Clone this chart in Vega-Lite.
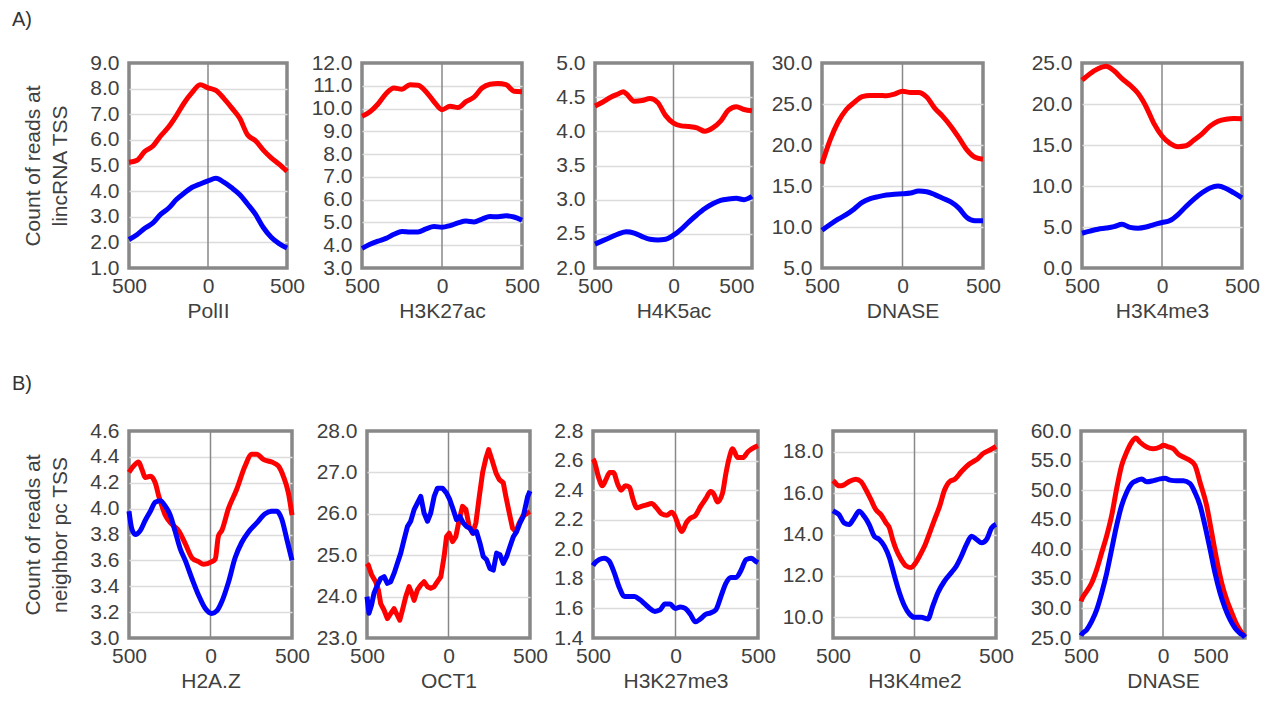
{
"$schema": "https://vega.github.io/schema/vega-lite/v6.json",
"autosize": {"type": "pad"},
"padding": {"left": 12, "top": 10, "right": 5, "bottom": 2},
"background": "white",
"datasets": {
"d": [
{"p":"PolII","s":"r","x":-500,"y":5.13},{"p":"PolII","s":"r","x":-450,"y":5.2},{"p":"PolII","s":"r","x":-400,"y":5.55},{"p":"PolII","s":"r","x":-350,"y":5.75},{"p":"PolII","s":"r","x":-300,"y":6.15},{"p":"PolII","s":"r","x":-250,"y":6.5},{"p":"PolII","s":"r","x":-200,"y":6.95},{"p":"PolII","s":"r","x":-150,"y":7.45},{"p":"PolII","s":"r","x":-100,"y":7.85},{"p":"PolII","s":"r","x":-50,"y":8.15},{"p":"PolII","s":"r","x":0,"y":8.03},{"p":"PolII","s":"r","x":50,"y":7.93},{"p":"PolII","s":"r","x":100,"y":7.62},{"p":"PolII","s":"r","x":150,"y":7.25},{"p":"PolII","s":"r","x":200,"y":6.85},{"p":"PolII","s":"r","x":250,"y":6.2},{"p":"PolII","s":"r","x":300,"y":5.97},{"p":"PolII","s":"r","x":350,"y":5.6},{"p":"PolII","s":"r","x":400,"y":5.3},{"p":"PolII","s":"r","x":450,"y":5.05},{"p":"PolII","s":"r","x":500,"y":4.77},
{"p":"PolII","s":"b","x":-500,"y":2.11},{"p":"PolII","s":"b","x":-450,"y":2.3},{"p":"PolII","s":"b","x":-400,"y":2.55},{"p":"PolII","s":"b","x":-350,"y":2.75},{"p":"PolII","s":"b","x":-300,"y":3.09},{"p":"PolII","s":"b","x":-250,"y":3.33},{"p":"PolII","s":"b","x":-200,"y":3.67},{"p":"PolII","s":"b","x":-150,"y":3.93},{"p":"PolII","s":"b","x":-100,"y":4.15},{"p":"PolII","s":"b","x":-50,"y":4.28},{"p":"PolII","s":"b","x":0,"y":4.4},{"p":"PolII","s":"b","x":50,"y":4.5},{"p":"PolII","s":"b","x":100,"y":4.35},{"p":"PolII","s":"b","x":150,"y":4.13},{"p":"PolII","s":"b","x":200,"y":3.87},{"p":"PolII","s":"b","x":250,"y":3.5},{"p":"PolII","s":"b","x":300,"y":3.1},{"p":"PolII","s":"b","x":350,"y":2.58},{"p":"PolII","s":"b","x":400,"y":2.2},{"p":"PolII","s":"b","x":450,"y":1.95},{"p":"PolII","s":"b","x":500,"y":1.78},
{"p":"H3K27ac","s":"r","x":-500,"y":9.66},{"p":"H3K27ac","s":"r","x":-450,"y":9.86},{"p":"H3K27ac","s":"r","x":-400,"y":10.2},{"p":"H3K27ac","s":"r","x":-350,"y":10.65},{"p":"H3K27ac","s":"r","x":-300,"y":10.9},{"p":"H3K27ac","s":"r","x":-250,"y":10.85},{"p":"H3K27ac","s":"r","x":-200,"y":11.05},{"p":"H3K27ac","s":"r","x":-150,"y":11.02},{"p":"H3K27ac","s":"r","x":-100,"y":10.74},{"p":"H3K27ac","s":"r","x":-50,"y":10.3},{"p":"H3K27ac","s":"r","x":0,"y":9.95},{"p":"H3K27ac","s":"r","x":50,"y":10.1},{"p":"H3K27ac","s":"r","x":100,"y":10.05},{"p":"H3K27ac","s":"r","x":150,"y":10.3},{"p":"H3K27ac","s":"r","x":200,"y":10.5},{"p":"H3K27ac","s":"r","x":250,"y":10.9},{"p":"H3K27ac","s":"r","x":300,"y":11.07},{"p":"H3K27ac","s":"r","x":350,"y":11.1},{"p":"H3K27ac","s":"r","x":400,"y":11.05},{"p":"H3K27ac","s":"r","x":450,"y":10.76},{"p":"H3K27ac","s":"r","x":500,"y":10.74},
{"p":"H3K27ac","s":"b","x":-500,"y":3.86},{"p":"H3K27ac","s":"b","x":-450,"y":4.04},{"p":"H3K27ac","s":"b","x":-400,"y":4.18},{"p":"H3K27ac","s":"b","x":-350,"y":4.3},{"p":"H3K27ac","s":"b","x":-300,"y":4.48},{"p":"H3K27ac","s":"b","x":-250,"y":4.6},{"p":"H3K27ac","s":"b","x":-200,"y":4.58},{"p":"H3K27ac","s":"b","x":-150,"y":4.58},{"p":"H3K27ac","s":"b","x":-100,"y":4.72},{"p":"H3K27ac","s":"b","x":-50,"y":4.82},{"p":"H3K27ac","s":"b","x":0,"y":4.79},{"p":"H3K27ac","s":"b","x":50,"y":4.86},{"p":"H3K27ac","s":"b","x":100,"y":4.98},{"p":"H3K27ac","s":"b","x":150,"y":5.06},{"p":"H3K27ac","s":"b","x":200,"y":5.02},{"p":"H3K27ac","s":"b","x":250,"y":5.15},{"p":"H3K27ac","s":"b","x":300,"y":5.26},{"p":"H3K27ac","s":"b","x":350,"y":5.25},{"p":"H3K27ac","s":"b","x":400,"y":5.29},{"p":"H3K27ac","s":"b","x":450,"y":5.24},{"p":"H3K27ac","s":"b","x":500,"y":5.1},
{"p":"H4K5ac","s":"r","x":-500,"y":4.37},{"p":"H4K5ac","s":"r","x":-450,"y":4.43},{"p":"H4K5ac","s":"r","x":-400,"y":4.5},{"p":"H4K5ac","s":"r","x":-350,"y":4.55},{"p":"H4K5ac","s":"r","x":-320,"y":4.58},{"p":"H4K5ac","s":"r","x":-300,"y":4.55},{"p":"H4K5ac","s":"r","x":-250,"y":4.44},{"p":"H4K5ac","s":"r","x":-200,"y":4.45},{"p":"H4K5ac","s":"r","x":-150,"y":4.48},{"p":"H4K5ac","s":"r","x":-100,"y":4.42},{"p":"H4K5ac","s":"r","x":-50,"y":4.23},{"p":"H4K5ac","s":"r","x":0,"y":4.12},{"p":"H4K5ac","s":"r","x":50,"y":4.08},{"p":"H4K5ac","s":"r","x":100,"y":4.07},{"p":"H4K5ac","s":"r","x":150,"y":4.05},{"p":"H4K5ac","s":"r","x":200,"y":4.0},{"p":"H4K5ac","s":"r","x":250,"y":4.05},{"p":"H4K5ac","s":"r","x":300,"y":4.15},{"p":"H4K5ac","s":"r","x":350,"y":4.31},{"p":"H4K5ac","s":"r","x":400,"y":4.36},{"p":"H4K5ac","s":"r","x":450,"y":4.32},{"p":"H4K5ac","s":"r","x":500,"y":4.3},
{"p":"H4K5ac","s":"b","x":-500,"y":2.35},{"p":"H4K5ac","s":"b","x":-450,"y":2.4},{"p":"H4K5ac","s":"b","x":-400,"y":2.45},{"p":"H4K5ac","s":"b","x":-350,"y":2.5},{"p":"H4K5ac","s":"b","x":-300,"y":2.53},{"p":"H4K5ac","s":"b","x":-250,"y":2.51},{"p":"H4K5ac","s":"b","x":-200,"y":2.46},{"p":"H4K5ac","s":"b","x":-150,"y":2.42},{"p":"H4K5ac","s":"b","x":-100,"y":2.41},{"p":"H4K5ac","s":"b","x":-50,"y":2.42},{"p":"H4K5ac","s":"b","x":0,"y":2.48},{"p":"H4K5ac","s":"b","x":50,"y":2.57},{"p":"H4K5ac","s":"b","x":100,"y":2.68},{"p":"H4K5ac","s":"b","x":150,"y":2.78},{"p":"H4K5ac","s":"b","x":200,"y":2.87},{"p":"H4K5ac","s":"b","x":250,"y":2.94},{"p":"H4K5ac","s":"b","x":300,"y":2.99},{"p":"H4K5ac","s":"b","x":350,"y":3.01},{"p":"H4K5ac","s":"b","x":400,"y":3.02},{"p":"H4K5ac","s":"b","x":450,"y":3.0},{"p":"H4K5ac","s":"b","x":500,"y":3.05},
{"p":"DNASE_A","s":"r","x":-500,"y":17.7},{"p":"DNASE_A","s":"r","x":-450,"y":20.6},{"p":"DNASE_A","s":"r","x":-400,"y":22.8},{"p":"DNASE_A","s":"r","x":-350,"y":24.3},{"p":"DNASE_A","s":"r","x":-300,"y":25.2},{"p":"DNASE_A","s":"r","x":-250,"y":25.9},{"p":"DNASE_A","s":"r","x":-200,"y":26.05},{"p":"DNASE_A","s":"r","x":-150,"y":26.05},{"p":"DNASE_A","s":"r","x":-100,"y":26.0},{"p":"DNASE_A","s":"r","x":-50,"y":26.2},{"p":"DNASE_A","s":"r","x":0,"y":26.55},{"p":"DNASE_A","s":"r","x":50,"y":26.4},{"p":"DNASE_A","s":"r","x":100,"y":26.4},{"p":"DNASE_A","s":"r","x":150,"y":25.85},{"p":"DNASE_A","s":"r","x":200,"y":24.5},{"p":"DNASE_A","s":"r","x":250,"y":23.5},{"p":"DNASE_A","s":"r","x":300,"y":22.3},{"p":"DNASE_A","s":"r","x":350,"y":20.9},{"p":"DNASE_A","s":"r","x":400,"y":19.4},{"p":"DNASE_A","s":"r","x":450,"y":18.5},{"p":"DNASE_A","s":"r","x":500,"y":18.25},
{"p":"DNASE_A","s":"b","x":-500,"y":9.6},{"p":"DNASE_A","s":"b","x":-450,"y":10.3},{"p":"DNASE_A","s":"b","x":-400,"y":10.95},{"p":"DNASE_A","s":"b","x":-350,"y":11.5},{"p":"DNASE_A","s":"b","x":-300,"y":12.2},{"p":"DNASE_A","s":"b","x":-250,"y":13.0},{"p":"DNASE_A","s":"b","x":-200,"y":13.45},{"p":"DNASE_A","s":"b","x":-150,"y":13.7},{"p":"DNASE_A","s":"b","x":-100,"y":13.9},{"p":"DNASE_A","s":"b","x":-50,"y":14.0},{"p":"DNASE_A","s":"b","x":0,"y":14.05},{"p":"DNASE_A","s":"b","x":50,"y":14.15},{"p":"DNASE_A","s":"b","x":100,"y":14.4},{"p":"DNASE_A","s":"b","x":150,"y":14.3},{"p":"DNASE_A","s":"b","x":200,"y":13.95},{"p":"DNASE_A","s":"b","x":250,"y":13.5},{"p":"DNASE_A","s":"b","x":300,"y":13.05},{"p":"DNASE_A","s":"b","x":350,"y":12.3},{"p":"DNASE_A","s":"b","x":400,"y":11.15},{"p":"DNASE_A","s":"b","x":450,"y":10.76},{"p":"DNASE_A","s":"b","x":500,"y":10.76},
{"p":"H3K4me3","s":"r","x":-500,"y":22.9},{"p":"H3K4me3","s":"r","x":-450,"y":23.7},{"p":"H3K4me3","s":"r","x":-400,"y":24.3},{"p":"H3K4me3","s":"r","x":-350,"y":24.6},{"p":"H3K4me3","s":"r","x":-300,"y":24.05},{"p":"H3K4me3","s":"r","x":-250,"y":23.1},{"p":"H3K4me3","s":"r","x":-200,"y":22.3},{"p":"H3K4me3","s":"r","x":-150,"y":21.3},{"p":"H3K4me3","s":"r","x":-100,"y":19.7},{"p":"H3K4me3","s":"r","x":-50,"y":17.6},{"p":"H3K4me3","s":"r","x":0,"y":16.1},{"p":"H3K4me3","s":"r","x":50,"y":15.2},{"p":"H3K4me3","s":"r","x":100,"y":14.8},{"p":"H3K4me3","s":"r","x":150,"y":14.9},{"p":"H3K4me3","s":"r","x":200,"y":15.6},{"p":"H3K4me3","s":"r","x":250,"y":16.35},{"p":"H3K4me3","s":"r","x":300,"y":17.3},{"p":"H3K4me3","s":"r","x":350,"y":17.9},{"p":"H3K4me3","s":"r","x":400,"y":18.15},{"p":"H3K4me3","s":"r","x":450,"y":18.22},{"p":"H3K4me3","s":"r","x":500,"y":18.2},
{"p":"H3K4me3","s":"b","x":-500,"y":4.24},{"p":"H3K4me3","s":"b","x":-450,"y":4.5},{"p":"H3K4me3","s":"b","x":-400,"y":4.73},{"p":"H3K4me3","s":"b","x":-350,"y":4.87},{"p":"H3K4me3","s":"b","x":-300,"y":5.05},{"p":"H3K4me3","s":"b","x":-250,"y":5.33},{"p":"H3K4me3","s":"b","x":-200,"y":4.95},{"p":"H3K4me3","s":"b","x":-150,"y":4.85},{"p":"H3K4me3","s":"b","x":-100,"y":5.0},{"p":"H3K4me3","s":"b","x":-50,"y":5.3},{"p":"H3K4me3","s":"b","x":0,"y":5.55},{"p":"H3K4me3","s":"b","x":50,"y":5.79},{"p":"H3K4me3","s":"b","x":100,"y":6.52},{"p":"H3K4me3","s":"b","x":150,"y":7.5},{"p":"H3K4me3","s":"b","x":200,"y":8.4},{"p":"H3K4me3","s":"b","x":250,"y":9.17},{"p":"H3K4me3","s":"b","x":300,"y":9.75},{"p":"H3K4me3","s":"b","x":350,"y":9.99},{"p":"H3K4me3","s":"b","x":400,"y":9.7},{"p":"H3K4me3","s":"b","x":450,"y":9.15},{"p":"H3K4me3","s":"b","x":500,"y":8.55},
{"p":"H2A.Z","s":"r","x":-500,"y":4.28},{"p":"H2A.Z","s":"r","x":-471,"y":4.33},{"p":"H2A.Z","s":"r","x":-441,"y":4.36},{"p":"H2A.Z","s":"r","x":-420,"y":4.3},{"p":"H2A.Z","s":"r","x":-400,"y":4.24},{"p":"H2A.Z","s":"r","x":-369,"y":4.25},{"p":"H2A.Z","s":"r","x":-339,"y":4.2},{"p":"H2A.Z","s":"r","x":-318,"y":4.1},{"p":"H2A.Z","s":"r","x":-298,"y":4.02},{"p":"H2A.Z","s":"r","x":-278,"y":3.95},{"p":"H2A.Z","s":"r","x":-237,"y":3.88},{"p":"H2A.Z","s":"r","x":-196,"y":3.83},{"p":"H2A.Z","s":"r","x":-155,"y":3.73},{"p":"H2A.Z","s":"r","x":-114,"y":3.62},{"p":"H2A.Z","s":"r","x":-73,"y":3.59},{"p":"H2A.Z","s":"r","x":-43,"y":3.57},{"p":"H2A.Z","s":"r","x":8,"y":3.59},{"p":"H2A.Z","s":"r","x":29,"y":3.61},{"p":"H2A.Z","s":"r","x":49,"y":3.79},{"p":"H2A.Z","s":"r","x":69,"y":3.83},{"p":"H2A.Z","s":"r","x":110,"y":4.0},{"p":"H2A.Z","s":"r","x":161,"y":4.15},{"p":"H2A.Z","s":"r","x":212,"y":4.33},{"p":"H2A.Z","s":"r","x":253,"y":4.42},{"p":"H2A.Z","s":"r","x":284,"y":4.42},{"p":"H2A.Z","s":"r","x":324,"y":4.38},{"p":"H2A.Z","s":"r","x":376,"y":4.36},{"p":"H2A.Z","s":"r","x":416,"y":4.33},{"p":"H2A.Z","s":"r","x":447,"y":4.25},{"p":"H2A.Z","s":"r","x":478,"y":4.12},{"p":"H2A.Z","s":"r","x":500,"y":3.95},
{"p":"H2A.Z","s":"b","x":-500,"y":3.98},{"p":"H2A.Z","s":"b","x":-482,"y":3.84},{"p":"H2A.Z","s":"b","x":-461,"y":3.8},{"p":"H2A.Z","s":"b","x":-431,"y":3.83},{"p":"H2A.Z","s":"b","x":-400,"y":3.91},{"p":"H2A.Z","s":"b","x":-369,"y":3.98},{"p":"H2A.Z","s":"b","x":-339,"y":4.05},{"p":"H2A.Z","s":"b","x":-308,"y":4.06},{"p":"H2A.Z","s":"b","x":-278,"y":4.02},{"p":"H2A.Z","s":"b","x":-247,"y":3.95},{"p":"H2A.Z","s":"b","x":-216,"y":3.82},{"p":"H2A.Z","s":"b","x":-186,"y":3.69},{"p":"H2A.Z","s":"b","x":-155,"y":3.6},{"p":"H2A.Z","s":"b","x":-114,"y":3.46},{"p":"H2A.Z","s":"b","x":-73,"y":3.33},{"p":"H2A.Z","s":"b","x":-33,"y":3.23},{"p":"H2A.Z","s":"b","x":8,"y":3.19},{"p":"H2A.Z","s":"b","x":39,"y":3.21},{"p":"H2A.Z","s":"b","x":69,"y":3.28},{"p":"H2A.Z","s":"b","x":110,"y":3.43},{"p":"H2A.Z","s":"b","x":151,"y":3.62},{"p":"H2A.Z","s":"b","x":192,"y":3.74},{"p":"H2A.Z","s":"b","x":233,"y":3.82},{"p":"H2A.Z","s":"b","x":284,"y":3.89},{"p":"H2A.Z","s":"b","x":335,"y":3.96},{"p":"H2A.Z","s":"b","x":376,"y":3.98},{"p":"H2A.Z","s":"b","x":406,"y":3.98},{"p":"H2A.Z","s":"b","x":437,"y":3.92},{"p":"H2A.Z","s":"b","x":467,"y":3.77},{"p":"H2A.Z","s":"b","x":500,"y":3.6},
{"p":"OCT1","s":"r","x":-500,"y":24.8},{"p":"OCT1","s":"r","x":-492,"y":24.76},{"p":"OCT1","s":"r","x":-471,"y":24.52},{"p":"OCT1","s":"r","x":-447,"y":24.36},{"p":"OCT1","s":"r","x":-430,"y":24.16},{"p":"OCT1","s":"r","x":-416,"y":23.83},{"p":"OCT1","s":"r","x":-395,"y":23.67},{"p":"OCT1","s":"r","x":-375,"y":23.47},{"p":"OCT1","s":"r","x":-355,"y":23.59},{"p":"OCT1","s":"r","x":-334,"y":23.71},{"p":"OCT1","s":"r","x":-314,"y":23.55},{"p":"OCT1","s":"r","x":-299,"y":23.43},{"p":"OCT1","s":"r","x":-283,"y":23.67},{"p":"OCT1","s":"r","x":-262,"y":24.0},{"p":"OCT1","s":"r","x":-242,"y":24.24},{"p":"OCT1","s":"r","x":-225,"y":24.08},{"p":"OCT1","s":"r","x":-211,"y":23.91},{"p":"OCT1","s":"r","x":-191,"y":24.16},{"p":"OCT1","s":"r","x":-170,"y":24.28},{"p":"OCT1","s":"r","x":-150,"y":24.36},{"p":"OCT1","s":"r","x":-129,"y":24.24},{"p":"OCT1","s":"r","x":-109,"y":24.2},{"p":"OCT1","s":"r","x":-88,"y":24.24},{"p":"OCT1","s":"r","x":-68,"y":24.36},{"p":"OCT1","s":"r","x":-47,"y":24.48},{"p":"OCT1","s":"r","x":-27,"y":24.97},{"p":"OCT1","s":"r","x":-12,"y":25.45},{"p":"OCT1","s":"r","x":4,"y":25.53},{"p":"OCT1","s":"r","x":25,"y":25.33},{"p":"OCT1","s":"r","x":45,"y":25.45},{"p":"OCT1","s":"r","x":66,"y":25.86},{"p":"OCT1","s":"r","x":86,"y":26.18},{"p":"OCT1","s":"r","x":107,"y":26.1},{"p":"OCT1","s":"r","x":127,"y":25.69},{"p":"OCT1","s":"r","x":148,"y":25.53},{"p":"OCT1","s":"r","x":168,"y":25.78},{"p":"OCT1","s":"r","x":189,"y":26.42},{"p":"OCT1","s":"r","x":209,"y":26.99},{"p":"OCT1","s":"r","x":230,"y":27.35},{"p":"OCT1","s":"r","x":246,"y":27.55},{"p":"OCT1","s":"r","x":266,"y":27.31},{"p":"OCT1","s":"r","x":291,"y":26.99},{"p":"OCT1","s":"r","x":311,"y":26.83},{"p":"OCT1","s":"r","x":336,"y":26.75},{"p":"OCT1","s":"r","x":352,"y":26.42},{"p":"OCT1","s":"r","x":373,"y":26.02},{"p":"OCT1","s":"r","x":393,"y":25.65},{"p":"OCT1","s":"r","x":414,"y":25.57},{"p":"OCT1","s":"r","x":434,"y":25.78},{"p":"OCT1","s":"r","x":455,"y":25.94},{"p":"OCT1","s":"r","x":486,"y":26.02},{"p":"OCT1","s":"r","x":500,"y":26.05},
{"p":"OCT1","s":"b","x":-500,"y":24.0},{"p":"OCT1","s":"b","x":-488,"y":23.6},{"p":"OCT1","s":"b","x":-472,"y":23.8},{"p":"OCT1","s":"b","x":-457,"y":24.08},{"p":"OCT1","s":"b","x":-436,"y":24.28},{"p":"OCT1","s":"b","x":-416,"y":24.44},{"p":"OCT1","s":"b","x":-395,"y":24.48},{"p":"OCT1","s":"b","x":-375,"y":24.32},{"p":"OCT1","s":"b","x":-355,"y":24.36},{"p":"OCT1","s":"b","x":-334,"y":24.56},{"p":"OCT1","s":"b","x":-314,"y":24.8},{"p":"OCT1","s":"b","x":-293,"y":25.05},{"p":"OCT1","s":"b","x":-273,"y":25.37},{"p":"OCT1","s":"b","x":-252,"y":25.69},{"p":"OCT1","s":"b","x":-232,"y":25.82},{"p":"OCT1","s":"b","x":-211,"y":26.1},{"p":"OCT1","s":"b","x":-191,"y":26.26},{"p":"OCT1","s":"b","x":-170,"y":26.42},{"p":"OCT1","s":"b","x":-150,"y":26.02},{"p":"OCT1","s":"b","x":-129,"y":25.82},{"p":"OCT1","s":"b","x":-109,"y":26.02},{"p":"OCT1","s":"b","x":-88,"y":26.42},{"p":"OCT1","s":"b","x":-68,"y":26.62},{"p":"OCT1","s":"b","x":-37,"y":26.62},{"p":"OCT1","s":"b","x":-12,"y":26.5},{"p":"OCT1","s":"b","x":8,"y":26.34},{"p":"OCT1","s":"b","x":29,"y":26.1},{"p":"OCT1","s":"b","x":49,"y":25.86},{"p":"OCT1","s":"b","x":70,"y":25.94},{"p":"OCT1","s":"b","x":90,"y":25.78},{"p":"OCT1","s":"b","x":111,"y":25.69},{"p":"OCT1","s":"b","x":131,"y":25.65},{"p":"OCT1","s":"b","x":152,"y":25.53},{"p":"OCT1","s":"b","x":172,"y":25.57},{"p":"OCT1","s":"b","x":193,"y":25.29},{"p":"OCT1","s":"b","x":213,"y":24.97},{"p":"OCT1","s":"b","x":234,"y":24.89},{"p":"OCT1","s":"b","x":254,"y":24.68},{"p":"OCT1","s":"b","x":275,"y":24.64},{"p":"OCT1","s":"b","x":295,"y":25.05},{"p":"OCT1","s":"b","x":316,"y":25.01},{"p":"OCT1","s":"b","x":336,"y":24.8},{"p":"OCT1","s":"b","x":357,"y":24.97},{"p":"OCT1","s":"b","x":377,"y":25.21},{"p":"OCT1","s":"b","x":398,"y":25.45},{"p":"OCT1","s":"b","x":418,"y":25.57},{"p":"OCT1","s":"b","x":439,"y":25.78},{"p":"OCT1","s":"b","x":459,"y":25.94},{"p":"OCT1","s":"b","x":486,"y":26.42},{"p":"OCT1","s":"b","x":500,"y":26.55},
{"p":"H3K27me3","s":"r","x":-500,"y":2.61},{"p":"H3K27me3","s":"r","x":-494,"y":2.6},{"p":"H3K27me3","s":"r","x":-467,"y":2.49},{"p":"H3K27me3","s":"r","x":-443,"y":2.43},{"p":"H3K27me3","s":"r","x":-422,"y":2.47},{"p":"H3K27me3","s":"r","x":-398,"y":2.52},{"p":"H3K27me3","s":"r","x":-377,"y":2.52},{"p":"H3K27me3","s":"r","x":-350,"y":2.44},{"p":"H3K27me3","s":"r","x":-330,"y":2.4},{"p":"H3K27me3","s":"r","x":-303,"y":2.43},{"p":"H3K27me3","s":"r","x":-279,"y":2.42},{"p":"H3K27me3","s":"r","x":-258,"y":2.34},{"p":"H3K27me3","s":"r","x":-234,"y":2.28},{"p":"H3K27me3","s":"r","x":-207,"y":2.29},{"p":"H3K27me3","s":"r","x":-176,"y":2.3},{"p":"H3K27me3","s":"r","x":-145,"y":2.31},{"p":"H3K27me3","s":"r","x":-115,"y":2.28},{"p":"H3K27me3","s":"r","x":-84,"y":2.24},{"p":"H3K27me3","s":"r","x":-53,"y":2.23},{"p":"H3K27me3","s":"r","x":-23,"y":2.25},{"p":"H3K27me3","s":"r","x":-2,"y":2.22},{"p":"H3K27me3","s":"r","x":18,"y":2.16},{"p":"H3K27me3","s":"r","x":39,"y":2.12},{"p":"H3K27me3","s":"r","x":66,"y":2.18},{"p":"H3K27me3","s":"r","x":90,"y":2.21},{"p":"H3K27me3","s":"r","x":121,"y":2.23},{"p":"H3K27me3","s":"r","x":152,"y":2.29},{"p":"H3K27me3","s":"r","x":182,"y":2.34},{"p":"H3K27me3","s":"r","x":213,"y":2.39},{"p":"H3K27me3","s":"r","x":234,"y":2.37},{"p":"H3K27me3","s":"r","x":254,"y":2.32},{"p":"H3K27me3","s":"r","x":285,"y":2.38},{"p":"H3K27me3","s":"r","x":305,"y":2.51},{"p":"H3K27me3","s":"r","x":326,"y":2.62},{"p":"H3K27me3","s":"r","x":346,"y":2.68},{"p":"H3K27me3","s":"r","x":377,"y":2.62},{"p":"H3K27me3","s":"r","x":408,"y":2.62},{"p":"H3K27me3","s":"r","x":439,"y":2.66},{"p":"H3K27me3","s":"r","x":480,"y":2.69},{"p":"H3K27me3","s":"r","x":500,"y":2.7},
{"p":"H3K27me3","s":"b","x":-500,"y":1.89},{"p":"H3K27me3","s":"b","x":-494,"y":1.9},{"p":"H3K27me3","s":"b","x":-463,"y":1.93},{"p":"H3K27me3","s":"b","x":-432,"y":1.94},{"p":"H3K27me3","s":"b","x":-402,"y":1.92},{"p":"H3K27me3","s":"b","x":-371,"y":1.84},{"p":"H3K27me3","s":"b","x":-340,"y":1.74},{"p":"H3K27me3","s":"b","x":-309,"y":1.68},{"p":"H3K27me3","s":"b","x":-279,"y":1.68},{"p":"H3K27me3","s":"b","x":-248,"y":1.68},{"p":"H3K27me3","s":"b","x":-217,"y":1.66},{"p":"H3K27me3","s":"b","x":-186,"y":1.63},{"p":"H3K27me3","s":"b","x":-156,"y":1.6},{"p":"H3K27me3","s":"b","x":-125,"y":1.58},{"p":"H3K27me3","s":"b","x":-94,"y":1.59},{"p":"H3K27me3","s":"b","x":-64,"y":1.63},{"p":"H3K27me3","s":"b","x":-33,"y":1.63},{"p":"H3K27me3","s":"b","x":-2,"y":1.6},{"p":"H3K27me3","s":"b","x":29,"y":1.61},{"p":"H3K27me3","s":"b","x":59,"y":1.6},{"p":"H3K27me3","s":"b","x":90,"y":1.56},{"p":"H3K27me3","s":"b","x":121,"y":1.51},{"p":"H3K27me3","s":"b","x":152,"y":1.53},{"p":"H3K27me3","s":"b","x":182,"y":1.56},{"p":"H3K27me3","s":"b","x":213,"y":1.57},{"p":"H3K27me3","s":"b","x":244,"y":1.59},{"p":"H3K27me3","s":"b","x":275,"y":1.68},{"p":"H3K27me3","s":"b","x":305,"y":1.77},{"p":"H3K27me3","s":"b","x":336,"y":1.81},{"p":"H3K27me3","s":"b","x":367,"y":1.81},{"p":"H3K27me3","s":"b","x":398,"y":1.86},{"p":"H3K27me3","s":"b","x":428,"y":1.93},{"p":"H3K27me3","s":"b","x":459,"y":1.94},{"p":"H3K27me3","s":"b","x":484,"y":1.92},{"p":"H3K27me3","s":"b","x":500,"y":1.91},
{"p":"H3K4me2","s":"r","x":-500,"y":16.6},{"p":"H3K4me2","s":"r","x":-494,"y":16.56},{"p":"H3K4me2","s":"r","x":-463,"y":16.35},{"p":"H3K4me2","s":"r","x":-432,"y":16.4},{"p":"H3K4me2","s":"r","x":-401,"y":16.56},{"p":"H3K4me2","s":"r","x":-360,"y":16.67},{"p":"H3K4me2","s":"r","x":-329,"y":16.56},{"p":"H3K4me2","s":"r","x":-298,"y":16.16},{"p":"H3K4me2","s":"r","x":-267,"y":15.68},{"p":"H3K4me2","s":"r","x":-237,"y":15.2},{"p":"H3K4me2","s":"r","x":-206,"y":14.96},{"p":"H3K4me2","s":"r","x":-175,"y":14.56},{"p":"H3K4me2","s":"r","x":-154,"y":14.32},{"p":"H3K4me2","s":"r","x":-134,"y":13.76},{"p":"H3K4me2","s":"r","x":-113,"y":13.28},{"p":"H3K4me2","s":"r","x":-82,"y":12.8},{"p":"H3K4me2","s":"r","x":-51,"y":12.48},{"p":"H3K4me2","s":"r","x":-21,"y":12.4},{"p":"H3K4me2","s":"r","x":0,"y":12.56},{"p":"H3K4me2","s":"r","x":31,"y":12.96},{"p":"H3K4me2","s":"r","x":62,"y":13.44},{"p":"H3K4me2","s":"r","x":93,"y":14.08},{"p":"H3K4me2","s":"r","x":123,"y":14.72},{"p":"H3K4me2","s":"r","x":154,"y":15.36},{"p":"H3K4me2","s":"r","x":185,"y":16.16},{"p":"H3K4me2","s":"r","x":216,"y":16.56},{"p":"H3K4me2","s":"r","x":247,"y":16.67},{"p":"H3K4me2","s":"r","x":288,"y":17.04},{"p":"H3K4me2","s":"r","x":329,"y":17.36},{"p":"H3K4me2","s":"r","x":360,"y":17.52},{"p":"H3K4me2","s":"r","x":391,"y":17.68},{"p":"H3K4me2","s":"r","x":422,"y":17.92},{"p":"H3K4me2","s":"r","x":463,"y":18.08},{"p":"H3K4me2","s":"r","x":500,"y":18.26},
{"p":"H3K4me2","s":"b","x":-500,"y":15.15},{"p":"H3K4me2","s":"b","x":-494,"y":15.12},{"p":"H3K4me2","s":"b","x":-463,"y":14.96},{"p":"H3K4me2","s":"b","x":-432,"y":14.56},{"p":"H3K4me2","s":"b","x":-401,"y":14.48},{"p":"H3K4me2","s":"b","x":-370,"y":14.8},{"p":"H3K4me2","s":"b","x":-340,"y":15.12},{"p":"H3K4me2","s":"b","x":-309,"y":14.88},{"p":"H3K4me2","s":"b","x":-278,"y":14.48},{"p":"H3K4me2","s":"b","x":-247,"y":13.92},{"p":"H3K4me2","s":"b","x":-216,"y":13.76},{"p":"H3K4me2","s":"b","x":-185,"y":13.44},{"p":"H3K4me2","s":"b","x":-154,"y":12.88},{"p":"H3K4me2","s":"b","x":-123,"y":12.0},{"p":"H3K4me2","s":"b","x":-93,"y":11.2},{"p":"H3K4me2","s":"b","x":-62,"y":10.56},{"p":"H3K4me2","s":"b","x":-31,"y":10.16},{"p":"H3K4me2","s":"b","x":0,"y":10.0},{"p":"H3K4me2","s":"b","x":41,"y":10.0},{"p":"H3K4me2","s":"b","x":82,"y":9.92},{"p":"H3K4me2","s":"b","x":113,"y":10.56},{"p":"H3K4me2","s":"b","x":144,"y":11.2},{"p":"H3K4me2","s":"b","x":185,"y":11.76},{"p":"H3K4me2","s":"b","x":226,"y":12.16},{"p":"H3K4me2","s":"b","x":257,"y":12.48},{"p":"H3K4me2","s":"b","x":288,"y":12.96},{"p":"H3K4me2","s":"b","x":319,"y":13.52},{"p":"H3K4me2","s":"b","x":350,"y":13.92},{"p":"H3K4me2","s":"b","x":381,"y":13.76},{"p":"H3K4me2","s":"b","x":412,"y":13.6},{"p":"H3K4me2","s":"b","x":442,"y":13.76},{"p":"H3K4me2","s":"b","x":473,"y":14.32},{"p":"H3K4me2","s":"b","x":500,"y":14.5},
{"p":"DNASE_B","s":"r","x":-500,"y":31.2},{"p":"DNASE_B","s":"r","x":-496,"y":31.5},{"p":"DNASE_B","s":"r","x":-465,"y":32.9},{"p":"DNASE_B","s":"r","x":-435,"y":34.3},{"p":"DNASE_B","s":"r","x":-404,"y":36.6},{"p":"DNASE_B","s":"r","x":-374,"y":39.4},{"p":"DNASE_B","s":"r","x":-343,"y":42.3},{"p":"DNASE_B","s":"r","x":-313,"y":45.7},{"p":"DNASE_B","s":"r","x":-283,"y":50.2},{"p":"DNASE_B","s":"r","x":-252,"y":54.2},{"p":"DNASE_B","s":"r","x":-222,"y":56.4},{"p":"DNASE_B","s":"r","x":-191,"y":58.1},{"p":"DNASE_B","s":"r","x":-165,"y":58.8},{"p":"DNASE_B","s":"r","x":-140,"y":58.1},{"p":"DNASE_B","s":"r","x":-100,"y":57.3},{"p":"DNASE_B","s":"r","x":-59,"y":57.0},{"p":"DNASE_B","s":"r","x":-18,"y":57.3},{"p":"DNASE_B","s":"r","x":2,"y":57.6},{"p":"DNASE_B","s":"r","x":33,"y":57.3},{"p":"DNASE_B","s":"r","x":63,"y":57.0},{"p":"DNASE_B","s":"r","x":93,"y":56.1},{"p":"DNASE_B","s":"r","x":124,"y":55.6},{"p":"DNASE_B","s":"r","x":165,"y":55.0},{"p":"DNASE_B","s":"r","x":195,"y":54.2},{"p":"DNASE_B","s":"r","x":226,"y":51.3},{"p":"DNASE_B","s":"r","x":266,"y":47.4},{"p":"DNASE_B","s":"r","x":297,"y":42.8},{"p":"DNASE_B","s":"r","x":327,"y":38.3},{"p":"DNASE_B","s":"r","x":358,"y":34.3},{"p":"DNASE_B","s":"r","x":388,"y":31.5},{"p":"DNASE_B","s":"r","x":419,"y":29.3},{"p":"DNASE_B","s":"r","x":449,"y":27.3},{"p":"DNASE_B","s":"r","x":480,"y":25.9},{"p":"DNASE_B","s":"r","x":500,"y":25.3},
{"p":"DNASE_B","s":"b","x":-500,"y":25.4},{"p":"DNASE_B","s":"b","x":-496,"y":25.6},{"p":"DNASE_B","s":"b","x":-465,"y":26.4},{"p":"DNASE_B","s":"b","x":-435,"y":27.8},{"p":"DNASE_B","s":"b","x":-404,"y":29.8},{"p":"DNASE_B","s":"b","x":-374,"y":32.6},{"p":"DNASE_B","s":"b","x":-343,"y":36.0},{"p":"DNASE_B","s":"b","x":-313,"y":40.0},{"p":"DNASE_B","s":"b","x":-283,"y":44.0},{"p":"DNASE_B","s":"b","x":-252,"y":47.4},{"p":"DNASE_B","s":"b","x":-222,"y":49.6},{"p":"DNASE_B","s":"b","x":-191,"y":51.1},{"p":"DNASE_B","s":"b","x":-161,"y":51.6},{"p":"DNASE_B","s":"b","x":-130,"y":51.9},{"p":"DNASE_B","s":"b","x":-100,"y":51.4},{"p":"DNASE_B","s":"b","x":-59,"y":51.6},{"p":"DNASE_B","s":"b","x":-18,"y":51.9},{"p":"DNASE_B","s":"b","x":12,"y":52.0},{"p":"DNASE_B","s":"b","x":43,"y":51.7},{"p":"DNASE_B","s":"b","x":83,"y":51.6},{"p":"DNASE_B","s":"b","x":124,"y":51.6},{"p":"DNASE_B","s":"b","x":165,"y":51.1},{"p":"DNASE_B","s":"b","x":195,"y":49.6},{"p":"DNASE_B","s":"b","x":226,"y":47.4},{"p":"DNASE_B","s":"b","x":256,"y":44.0},{"p":"DNASE_B","s":"b","x":287,"y":40.0},{"p":"DNASE_B","s":"b","x":317,"y":36.0},{"p":"DNASE_B","s":"b","x":348,"y":32.6},{"p":"DNASE_B","s":"b","x":378,"y":30.1},{"p":"DNASE_B","s":"b","x":409,"y":28.1},{"p":"DNASE_B","s":"b","x":439,"y":26.7},{"p":"DNASE_B","s":"b","x":470,"y":25.8},{"p":"DNASE_B","s":"b","x":494,"y":25.3},{"p":"DNASE_B","s":"b","x":500,"y":25.1}
],
"zero": [{"z": 0}]
},
"data": {"name": "d"},
"config": {
"font": "Liberation Sans",
"view": {"stroke": "#888888", "strokeWidth": 3.5},
"line": {"strokeWidth": 5, "interpolate": "monotone", "clip": true, "strokeJoin": "round"},
"rule": {"color": "#888888", "strokeWidth": 1.5},
"axis": {"labelFont": "Liberation Sans", "labelFontSize": 21, "labelColor": "#404040", "titleFont": "Liberation Sans", "titleFontSize": 21, "titleFontWeight": "normal", "titleColor": "#404040", "domain": false, "ticks": false, "tickSize": 0, "labelFlush": false, "labelOverlap": false},
"axisX": {"grid": false, "labelPadding": 7, "titlePadding": 4, "labelExpr": "datum.value == 0 ? '0' : '500'"},
"axisY": {"grid": true, "gridColor": "#dcdcdc", "gridWidth": 1.5, "format": ".1f", "labelPadding": 10, "titlePadding": 19, "titleLineHeight": 27},
"title": {"font": "Liberation Sans", "fontSize": 20, "fontWeight": "normal", "color": "#333333", "anchor": "start", "frame": "group"}
},
"spacing": 51,
"vconcat": [
{
"title": {"text": "A)", "dx": -117, "offset": 20},
"spacing": 26,
"hconcat": [
{"spacing": 2, "hconcat": [
{"width": 158, "height": 205, "layer": [
{"data": {"name": "zero"}, "mark": "rule", "encoding": {"x": {"field": "z", "type": "quantitative", "scale": {"domain": [-500, 500], "nice": false}, "axis": {"values": [-500, 0, 500], "title": "PolII"}}}},
{"transform": [{"filter": "datum.p == 'PolII'"}],
"encoding": {
"x": {"field": "x", "type": "quantitative", "scale": {"domain": [-500, 500], "nice": false}, "axis": {"values": [-500, 0, 500], "title": "PolII"}},
"y": {"field": "y", "type": "quantitative", "scale": {"domain": [1, 9], "nice": false, "zero": false}, "axis": {"values": [1,2,3,4,5,6,7,8,9], "title": ["Count of reads at", "lincRNA TSS"], "gridOpacity": {"condition": {"test": "datum.value <= 1.001 || datum.value >= 8.999", "value": 0}, "value": 1}}}},
"layer": [
{"transform": [{"filter": "datum.s == 'r'"}], "mark": {"type": "line", "color": "#ff0000"}},
{"transform": [{"filter": "datum.s == 'b'"}], "mark": {"type": "line", "color": "#0000ff"}}
]}
]},
{"spacing": 12, "hconcat": [
{"width": 160, "height": 205, "layer": [
{"data": {"name": "zero"}, "mark": "rule", "encoding": {"x": {"field": "z", "type": "quantitative", "scale": {"domain": [-500, 500], "nice": false}, "axis": {"values": [-500, 0, 500], "title": "H3K27ac"}}}},
{"transform": [{"filter": "datum.p == 'H3K27ac'"}],
"encoding": {
"x": {"field": "x", "type": "quantitative", "scale": {"domain": [-500, 500], "nice": false}, "axis": {"values": [-500, 0, 500], "title": "H3K27ac"}},
"y": {"field": "y", "type": "quantitative", "scale": {"domain": [3, 12], "nice": false, "zero": false}, "axis": {"values": [3,4,5,6,7,8,9,10,11,12], "title": null, "gridOpacity": {"condition": {"test": "datum.value <= 3.001 || datum.value >= 11.999", "value": 0}, "value": 1}}}},
"layer": [
{"transform": [{"filter": "datum.s == 'r'"}], "mark": {"type": "line", "color": "#ff0000"}},
{"transform": [{"filter": "datum.s == 'b'"}], "mark": {"type": "line", "color": "#0000ff"}}
]}
]},
{"width": 157, "height": 205, "layer": [
{"data": {"name": "zero"}, "mark": "rule", "encoding": {"x": {"field": "z", "type": "quantitative", "scale": {"domain": [-500, 500], "nice": false}, "axis": {"values": [-500, 0, 400], "title": "H4K5ac"}}}},
{"transform": [{"filter": "datum.p == 'H4K5ac'"}],
"encoding": {
"x": {"field": "x", "type": "quantitative", "scale": {"domain": [-500, 500], "nice": false}, "axis": {"values": [-500, 0, 400], "title": "H4K5ac"}},
"y": {"field": "y", "type": "quantitative", "scale": {"domain": [2, 5], "nice": false, "zero": false}, "axis": {"values": [2,2.5,3,3.5,4,4.5,5], "title": null, "gridOpacity": {"condition": {"test": "datum.value <= 2.001 || datum.value >= 4.999", "value": 0}, "value": 1}}}},
"layer": [
{"transform": [{"filter": "datum.s == 'r'"}], "mark": {"type": "line", "color": "#ff0000"}},
{"transform": [{"filter": "datum.s == 'b'"}], "mark": {"type": "line", "color": "#0000ff"}}
]}
]},
{"width": 161, "height": 205, "layer": [
{"data": {"name": "zero"}, "mark": "rule", "encoding": {"x": {"field": "z", "type": "quantitative", "scale": {"domain": [-500, 500], "nice": false}, "axis": {"values": [-500, 0, 500], "title": "DNASE"}}}},
{"transform": [{"filter": "datum.p == 'DNASE_A'"}],
"encoding": {
"x": {"field": "x", "type": "quantitative", "scale": {"domain": [-500, 500], "nice": false}, "axis": {"values": [-500, 0, 500], "title": "DNASE"}},
"y": {"field": "y", "type": "quantitative", "scale": {"domain": [5, 30], "nice": false, "zero": false}, "axis": {"values": [5,10,15,20,25,30], "title": null, "gridOpacity": {"condition": {"test": "datum.value <= 5.001 || datum.value >= 29.999", "value": 0}, "value": 1}}}},
"layer": [
{"transform": [{"filter": "datum.s == 'r'"}], "mark": {"type": "line", "color": "#ff0000"}},
{"transform": [{"filter": "datum.s == 'b'"}], "mark": {"type": "line", "color": "#0000ff"}}
]}
]}
]}
]},
{"width": 160, "height": 205, "layer": [
{"data": {"name": "zero"}, "mark": "rule", "encoding": {"x": {"field": "z", "type": "quantitative", "scale": {"domain": [-500, 500], "nice": false}, "axis": {"values": [-500, 0, 500], "title": "H3K4me3"}}}},
{"transform": [{"filter": "datum.p == 'H3K4me3'"}],
"encoding": {
"x": {"field": "x", "type": "quantitative", "scale": {"domain": [-500, 500], "nice": false}, "axis": {"values": [-500, 0, 500], "title": "H3K4me3"}},
"y": {"field": "y", "type": "quantitative", "scale": {"domain": [0, 25], "nice": false, "zero": false}, "axis": {"values": [0,5,10,15,20,25], "title": null, "gridOpacity": {"condition": {"test": "datum.value <= 0.001 || datum.value >= 24.999", "value": 0}, "value": 1}}}},
"layer": [
{"transform": [{"filter": "datum.s == 'r'"}], "mark": {"type": "line", "color": "#ff0000"}},
{"transform": [{"filter": "datum.s == 'b'"}], "mark": {"type": "line", "color": "#0000ff"}}
]}
]}
]
},
{
"title": {"text": "B)", "dx": -117, "offset": 24},
"spacing": 12,
"hconcat": [
{"spacing": 2, "hconcat": [
{"width": 163, "height": 207, "layer": [
{"data": {"name": "zero"}, "mark": "rule", "encoding": {"x": {"field": "z", "type": "quantitative", "scale": {"domain": [-500, 500], "nice": false}, "axis": {"values": [-500, 0, 500], "title": "H2A.Z"}}}},
{"transform": [{"filter": "datum.p == 'H2A.Z'"}],
"encoding": {
"x": {"field": "x", "type": "quantitative", "scale": {"domain": [-500, 500], "nice": false}, "axis": {"values": [-500, 0, 500], "title": "H2A.Z"}},
"y": {"field": "y", "type": "quantitative", "scale": {"domain": [3, 4.6], "nice": false, "zero": false}, "axis": {"values": [3,3.2,3.4,3.6,3.8,4,4.2,4.4,4.6], "title": ["Count of reads at", "neighbor pc TSS"], "gridOpacity": {"condition": {"test": "datum.value <= 3.001 || datum.value >= 4.599", "value": 0}, "value": 1}}}},
"layer": [
{"transform": [{"filter": "datum.s == 'r'"}], "mark": {"type": "line", "color": "#ff0000"}},
{"transform": [{"filter": "datum.s == 'b'"}], "mark": {"type": "line", "color": "#0000ff"}}
]}
]},
{"width": 163, "height": 207, "layer": [
{"data": {"name": "zero"}, "mark": "rule", "encoding": {"x": {"field": "z", "type": "quantitative", "scale": {"domain": [-500, 500], "nice": false}, "axis": {"values": [-500, 0, 500], "title": "OCT1"}}}},
{"transform": [{"filter": "datum.p == 'OCT1'"}],
"encoding": {
"x": {"field": "x", "type": "quantitative", "scale": {"domain": [-500, 500], "nice": false}, "axis": {"values": [-500, 0, 500], "title": "OCT1"}},
"y": {"field": "y", "type": "quantitative", "scale": {"domain": [23, 28], "nice": false, "zero": false}, "axis": {"values": [23,24,25,26,27,28], "title": null, "gridOpacity": {"condition": {"test": "datum.value <= 23.001 || datum.value >= 27.999", "value": 0}, "value": 1}}}},
"layer": [
{"transform": [{"filter": "datum.s == 'r'"}], "mark": {"type": "line", "color": "#ff0000", "interpolate": "linear"}},
{"transform": [{"filter": "datum.s == 'b'"}], "mark": {"type": "line", "color": "#0000ff", "interpolate": "linear"}}
]}
]},
{"width": 165, "height": 207, "layer": [
{"data": {"name": "zero"}, "mark": "rule", "encoding": {"x": {"field": "z", "type": "quantitative", "scale": {"domain": [-500, 500], "nice": false}, "axis": {"values": [-500, 0, 500], "title": "H3K27me3"}}}},
{"transform": [{"filter": "datum.p == 'H3K27me3'"}],
"encoding": {
"x": {"field": "x", "type": "quantitative", "scale": {"domain": [-500, 500], "nice": false}, "axis": {"values": [-500, 0, 500], "title": "H3K27me3"}},
"y": {"field": "y", "type": "quantitative", "scale": {"domain": [1.4, 2.8], "nice": false, "zero": false}, "axis": {"values": [1.4,1.6,1.8,2,2.2,2.4,2.6,2.8], "title": null, "gridOpacity": {"condition": {"test": "datum.value <= 1.401 || datum.value >= 2.799", "value": 0}, "value": 1}}}},
"layer": [
{"transform": [{"filter": "datum.s == 'r'"}], "mark": {"type": "line", "color": "#ff0000"}},
{"transform": [{"filter": "datum.s == 'b'"}], "mark": {"type": "line", "color": "#0000ff"}}
]}
]},
{"width": 163, "height": 207, "layer": [
{"data": {"name": "zero"}, "mark": "rule", "encoding": {"x": {"field": "z", "type": "quantitative", "scale": {"domain": [-500, 500], "nice": false}, "axis": {"values": [-500, 0, 500], "title": "H3K4me2"}}}},
{"transform": [{"filter": "datum.p == 'H3K4me2'"}],
"encoding": {
"x": {"field": "x", "type": "quantitative", "scale": {"domain": [-500, 500], "nice": false}, "axis": {"values": [-500, 0, 500], "title": "H3K4me2"}},
"y": {"field": "y", "type": "quantitative", "scale": {"domain": [9, 19], "nice": false, "zero": false}, "axis": {"values": [10,12,14,16,18], "title": null}}},
"layer": [
{"transform": [{"filter": "datum.s == 'r'"}], "mark": {"type": "line", "color": "#ff0000"}},
{"transform": [{"filter": "datum.s == 'b'"}], "mark": {"type": "line", "color": "#0000ff"}}
]}
]}
]},
{"width": 164, "height": 207, "layer": [
{"data": {"name": "zero"}, "mark": "rule", "encoding": {"x": {"field": "z", "type": "quantitative", "scale": {"domain": [-500, 500], "nice": false}, "axis": {"values": [-500, 0, 290], "title": "DNASE"}}}},
{"transform": [{"filter": "datum.p == 'DNASE_B'"}],
"encoding": {
"x": {"field": "x", "type": "quantitative", "scale": {"domain": [-500, 500], "nice": false}, "axis": {"values": [-500, 0, 290], "title": "DNASE"}},
"y": {"field": "y", "type": "quantitative", "scale": {"domain": [25, 60], "nice": false, "zero": false}, "axis": {"values": [25,30,35,40,45,50,55,60], "title": null, "gridOpacity": {"condition": {"test": "datum.value <= 25.001 || datum.value >= 59.999", "value": 0}, "value": 1}}}},
"layer": [
{"transform": [{"filter": "datum.s == 'r'"}], "mark": {"type": "line", "color": "#ff0000"}},
{"transform": [{"filter": "datum.s == 'b'"}], "mark": {"type": "line", "color": "#0000ff"}}
]}
]}
]
}
]
}
